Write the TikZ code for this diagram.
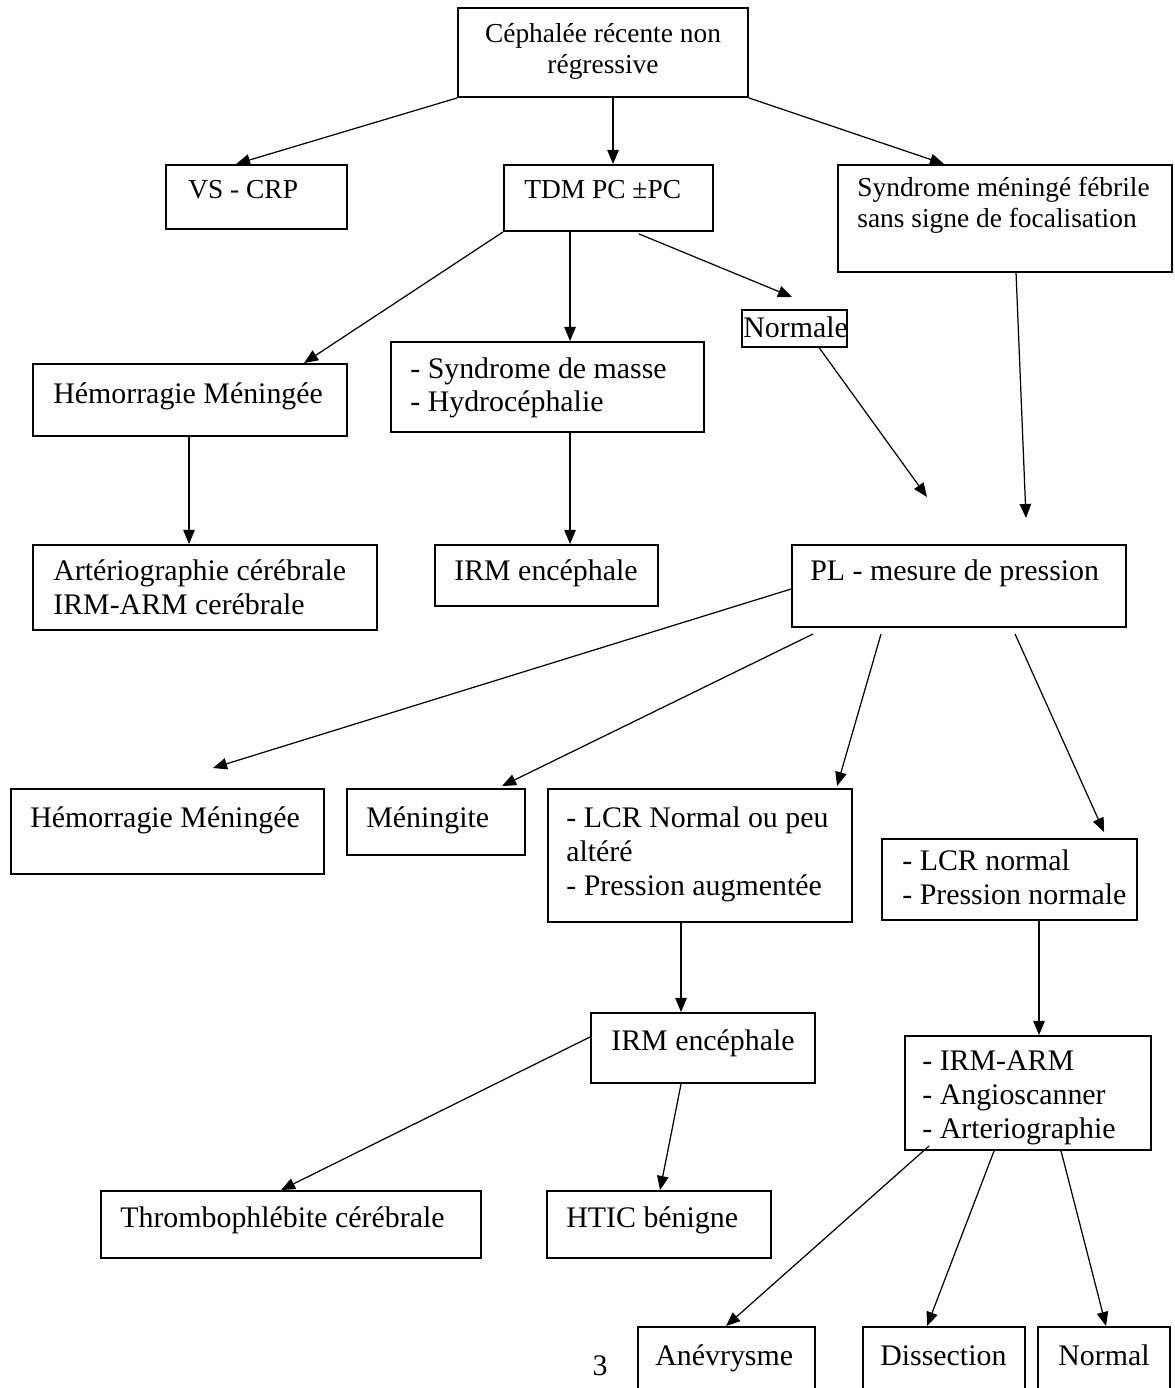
\documentclass[tikz,border=0pt]{standalone}
\usepackage{fontspec}
\setmainfont{Liberation Serif}
\usetikzlibrary{arrows.meta,fit,calc}
\begin{document}
\begin{tikzpicture}[x=0.02cm,y=-0.02cm,
 box/.style={draw,line width=1.1pt,inner sep=0pt},
 txt/.style={inner sep=0pt,anchor=base west,font=\fontsize{17}{19.35}\selectfont},
 stxt/.style={inner sep=0pt,anchor=base west,font=\fontsize{15.6}{17.2}\selectfont},
 arr/.style={-{Triangle[length=8pt,width=6.5pt]},line width=0.7pt}]
\clip (0,0) rectangle (1175,1388);
\fill[white] (0,0) rectangle (1175,1388);
% boxes
\node[box,fit={(458,8) (748,97)}] (top) {};
\node[box,fit={(166,165) (347,229)}] (vs) {};
\node[box,fit={(504,165) (713,231)}] (tdm) {};
\node[box,fit={(838,165) (1172,272)}] (sm) {};
\node[box,line width=0.9pt,fit={(742,310) (847,347)}] (normale) {};
\node[box,fit={(33,364) (347,436)}] (hm1) {};
\node[box,fit={(391,342) (704,432)}] (masse) {};
\node[box,fit={(33,545) (377,630)}] (art) {};
\node[box,fit={(435,545) (658,606)}] (irm1) {};
\node[box,fit={(792,545) (1126,627)}] (pl) {};
\node[box,fit={(11,789) (324,874)}] (hm2) {};
\node[box,fit={(347,789) (525,855)}] (men) {};
\node[box,fit={(548,789) (852,922)}] (lcr) {};
\node[box,fit={(882,839) (1137,920)}] (lcrn) {};
\node[box,fit={(591,1013) (815,1083)}] (irm2) {};
\node[box,fit={(905,1036) (1151,1150)}] (arm) {};
\node[box,fit={(101,1191) (481,1258)}] (thr) {};
\node[box,fit={(547,1191) (771,1258)}] (htic) {};
\node[box,fit={(638,1327) (815,1400)}] (anev) {};
\node[box,fit={(863,1327) (1025,1400)}] (diss) {};
\node[box,fit={(1038,1327) (1170,1400)}] (norm) {};
% texts
\node[stxt,anchor=base] (top-t) at (603,43) {\begin{tabular}[t]{@{}c@{}}Céphalée récente non\\régressive\end{tabular}};
\node[stxt] (vs-t) at (188,199) {VS - CRP};
\node[stxt] (tdm-t) at (524,199) {TDM PC ±PC};
\node[stxt] (sm-t) at (857,197) {\begin{tabular}[t]{@{}l@{}}Syndrome méningé fébrile\\sans signe de focalisation\end{tabular}};
\node[txt] (normale-t) at (743,338) {Normale};
\node[txt] (hm1-t) at (53,403) {Hémorragie Méningée};
\node[txt] (masse-t) at (410,378) {\begin{tabular}[t]{@{}l@{}}- Syndrome de masse\\- Hydrocéphalie\end{tabular}};
\node[txt] (art-t) at (53,580) {\begin{tabular}[t]{@{}l@{}}Artériographie cérébrale\\IRM-ARM cerébrale\end{tabular}};
\node[txt] (irm1-t) at (454,580) {IRM encéphale};
\node[txt] (pl-t) at (810,580) {PL - mesure de pression};
\node[txt] (hm2-t) at (30,827) {Hémorragie Méningée};
\node[txt] (men-t) at (366,827) {Méningite};
\node[txt] (lcr-t) at (566,827) {\begin{tabular}[t]{@{}l@{}}- LCR Normal ou peu\\altéré\\- Pression augmentée\end{tabular}};
\node[txt] (lcrn-t) at (902,870) {\begin{tabular}[t]{@{}l@{}}- LCR normal\\- Pression normale\end{tabular}};
\node[txt] (irm2-t) at (611,1050) {IRM encéphale};
\node[txt] (arm-t) at (922,1070) {\begin{tabular}[t]{@{}l@{}}- IRM-ARM\\- Angioscanner\\- Arteriographie\end{tabular}};
\node[txt] (thr-t) at (120,1227) {Thrombophlébite cérébrale};
\node[txt] (htic-t) at (566,1227) {HTIC bénigne};
\node[txt] (anev-t) at (655,1365) {Anévrysme};
\node[txt] (diss-t) at (880,1365) {Dissection};
\node[txt] (norm-t) at (1058,1365) {Normal};
\node[txt,anchor=base] (page) at (600,1375) {3};
% free ends
\coordinate (n1) at (792,297);
\coordinate (n2) at (927,497);
\coordinate (n3) at (1026,518);
\coordinate (p1) at (213,768);
% arrows
\draw[arr] (top.south west) -- ($(vs.north west)+(71,0)$);
\draw[arr] ($(top.south west)+(156,0)$) -- ($(tdm.north west)+(110,0)$);
\draw[arr] (top.south east) -- ($(sm.north west)+(107,0)$);
\draw[arr] (tdm.south west) -- ($(hm1.north west)+(272,0)$);
\draw[arr] ($(tdm.south west)+(67,0)$) -- ($(masse.north west)+(180,0)$);
\draw[arr] ($(tdm.south west)+(136,2)$) -- (n1);
\draw[arr] ($(normale.south west)+(78,0)$) -- (n2);
\draw[arr] ($(sm.south west)+(179,0)$) -- (n3);
\draw[arr] ($(hm1.south west)+(157,0)$) -- ($(art.north west)+(157,0)$);
\draw[arr] ($(masse.south west)+(180,0)$) -- ($(irm1.north west)+(136,0)$);
\draw[arr] ($(pl.north west)+(0,45)$) -- (p1);
\draw[arr] ($(pl.south west)+(22,6)$) -- ($(men.north west)+(156,-2)$);
\draw[arr] ($(pl.south west)+(90,6)$) -- ($(lcr.north west)+(290,-2)$);
\draw[arr] ($(pl.south west)+(224,6)$) -- ($(lcrn.north west)+(223,-6)$);
\draw[arr] ($(lcr.south west)+(134,0)$) -- ($(irm2.north west)+(91,0)$);
\draw[arr] ($(lcrn.south west)+(158,0)$) -- ($(arm.north west)+(135,0)$);
\draw[arr] ($(irm2.south west)+(0,-47)$) -- ($(thr.north west)+(181,0)$);
\draw[arr] ($(irm2.south west)+(91,0)$) -- ($(htic.north west)+(114,0)$);
\draw[arr] ($(arm.south west)+(25,-5)$) -- ($(anev.north west)+(89,0)$);
\draw[arr] ($(arm.south west)+(90,0)$) -- ($(diss.north west)+(65,0)$);
\draw[arr] ($(arm.south west)+(157,0)$) -- ($(norm.north west)+(69,0)$);
\end{tikzpicture}
\end{document}
